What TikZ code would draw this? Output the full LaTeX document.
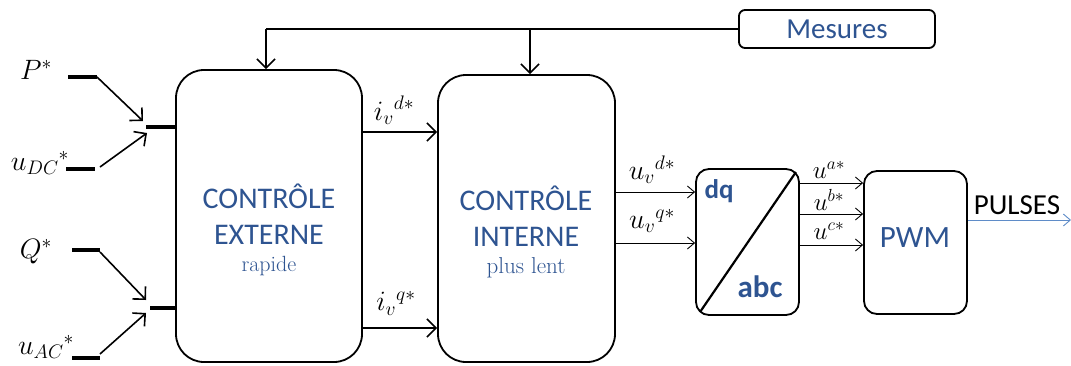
\documentclass[tikz,border=0pt]{standalone}
\usepackage{fix-cm}
\usepackage{amsmath}
\usepackage{fontspec}
\newfontfamily\calibri{Carlito}
\usepackage{tikz}
\usetikzlibrary{arrows.meta,positioning,calc}
\definecolor{txtblue}{RGB}{46,84,145}
\definecolor{pulseblue}{RGB}{95,140,200}
\tikzset{
    block/.style={draw, line width=1.8pt, rounded corners=28pt},
    smallblock/.style={draw, line width=1.8pt, rounded corners=13pt},
    bigtxt/.style={text=txtblue, font=\calibri\fontsize{30}{36}\selectfont, align=center},
    stub/.style={line width=3.5pt},
    feed/.style={-{Straight Barb[length=9pt, width=18pt, line width=1.6pt]}, line width=1.6pt},
    thin/.style={-{Straight Barb[length=7pt, width=12pt]}, line width=0.9pt},
    mlabel/.style={font=\fontsize{28}{30}\selectfont}
}

\begin{document}
\begin{tikzpicture}[x=1pt, y=-1pt]
    \useasboundingbox (0,0) rectangle (1071,365);

    % main blocks
    \node[block, minimum width=186pt, minimum height=292pt] (ext) at (269,216) {};
    \node[block, minimum width=177pt, minimum height=287pt] (int) at (526.5,218.5) {};
    \node[smallblock, minimum width=103pt, minimum height=146pt] (conv) at (747.5,242) {};
    \node[smallblock, minimum width=103pt, minimum height=143pt] (pwm) at (915.5,242.5) {};
    \node[draw, line width=1.8pt, rounded corners=6pt, minimum width=196pt, minimum height=38pt,
          text=txtblue, font=\calibri\fontsize{29}{30}\selectfont] (mes) at (837,29) {Mesures};

    % block texts
    \node[bigtxt] (extlbl) at (269,230) {CONTRÔLE\\EXTERNE\\[-9pt]{\rmfamily\fontsize{22}{24}\selectfont rapide}};
    \node[bigtxt] (intlbl) at (526,232) {CONTRÔLE\\INTERNE\\[-9pt]{\rmfamily\fontsize{23}{24}\selectfont plus lent}};
    \node[text=txtblue, font=\calibri\bfseries\fontsize{27}{30}\selectfont] (dq) at (719,191) {dq};
    \node[text=txtblue, font=\calibri\bfseries\fontsize{31}{34}\selectfont] (abc) at (760,287) {abc};
    \node[text=txtblue, font=\calibri\fontsize{31}{34}\selectfont] (pwmlbl) at (915,238) {PWM};
    \draw[line width=2.2pt] ($(conv.south west)+(5,-4)$) -- ($(conv.north east)+(-4,4)$);

    % measurement feedback
    \coordinate (fbL) at (266,29);
    \coordinate (fbM) at (530,29);
    \draw[line width=1.6pt] (mes.west) -- (fbL);
    \draw[feed] (fbL) -- (fbL |- ext.north);
    \draw[feed] (fbM) -- (fbM |- int.north);

    % set points
    \coordinate (j1) at (146,127);
    \coordinate (j2) at (150,308);
    \draw[stub] (j1) -- (j1 -| ext.west);
    \draw[stub] (j2) -- (j2 -| ext.west);
    \draw[stub] (68,77) -- (97,77) coordinate (pR);
    \draw[stub] (66,169) -- (95,169) coordinate (dcR);
    \draw[stub] (72,250) -- (100,250) coordinate (qR);
    \draw[stub] (72,358) -- (100,358) coordinate (acR);
    \draw[feed] (pR) -- ($(j1)+(-3,-6)$);
    \draw[feed] ($(dcR)+(5,-2)$) -- ($(j1)+(1,6)$);
    \draw[feed] ($(qR)+(0,2)$) -- ($(j2)+(-4,-8)$);
    \draw[feed] ($(acR)+(0,-4)$) -- ($(j2)+(-4,5)$);
    \node[mlabel] (pstar) at (36,70) {$P^{*}$};
    \node[mlabel] (dcstar) at (40,163) {${u_{DC}}^{*}$};
    \node[mlabel] (qstar) at (36,252) {$Q^{*}$};
    \node[mlabel] (acstar) at (46,347) {${u_{AC}}^{*}$};

    % current references
    \coordinate (id) at (362,132);
    \coordinate (iq) at (362,328);
    \draw[feed] (id) -- (id -| int.west);
    \draw[feed] (iq) -- (iq -| int.west);
    \node[mlabel] (idlbl) at (394,110) {${i_v}^{d*}$};
    \node[mlabel] (iqlbl) at (396,303) {${i_v}^{q*}$};

    % voltage references
    \coordinate (ud) at (615,192);
    \coordinate (uq) at (615,243);
    \draw[thin] (ud) -- (ud -| conv.west);
    \draw[thin] (uq) -- (uq -| conv.west);
    \node[mlabel] (udlbl) at (652,170) {${u_v}^{d*}$};
    \node[mlabel] (uqlbl) at (652,221) {${u_v}^{q*}$};

    \coordinate (ua) at (799,183);
    \coordinate (ub) at (799,214);
    \coordinate (uc) at (799,245);
    \draw[thin] (ua) -- (ua -| pwm.west);
    \draw[thin] (ub) -- (ub -| pwm.west);
    \draw[thin] (uc) -- (uc -| pwm.west);
    \node[font=\fontsize{25}{27}\selectfont] (ualbl) at (829,170) {$u^{a*}$};
    \node[font=\fontsize{25}{27}\selectfont] (ublbl) at (829,200) {$u^{b*}$};
    \node[font=\fontsize{25}{27}\selectfont] (uclbl) at (829,231) {$u^{c*}$};

    % output
    \coordinate (out) at (1071,220);
    \draw[thin, pulseblue] (pwm.east |- out) -- (out);
    \node[font=\calibri\fontsize{29}{30}\selectfont] (pulses) at (1017,205) {PULSES};
\end{tikzpicture}
\end{document}
